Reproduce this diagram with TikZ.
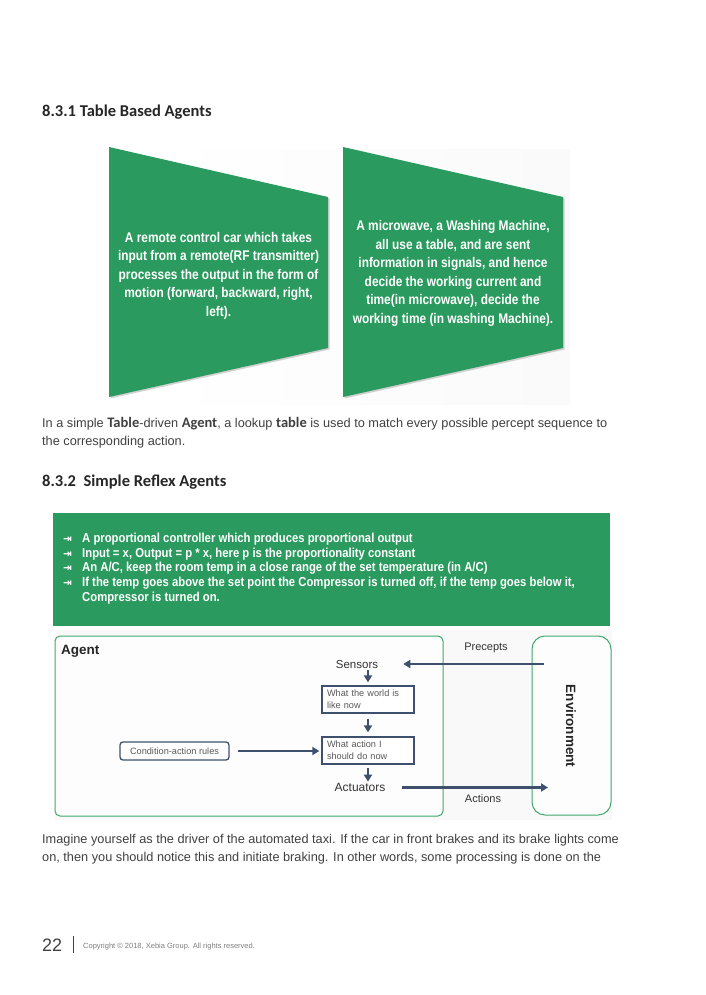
\documentclass[tikz,border=0pt]{standalone}
\usepackage{fontspec}
\setmainfont{Liberation Sans}
\newfontfamily\headfont{Carlito}
\newfontfamily\narrowfont[FakeStretch=0.85]{Liberation Sans}
\newfontfamily\bulletfont[FakeStretch=0.87]{Liberation Sans}
\newfontfamily\symfont{DejaVu Sans}
\usetikzlibrary{arrows.meta,positioning,shadows}
\definecolor{tgreen}{RGB}{42,154,94}
\definecolor{slateblue}{RGB}{62,80,110}
\definecolor{bodygray}{RGB}{64,64,64}
\definecolor{framegreen}{RGB}{62,168,108}
\newcommand{\arrowbullet}{\makebox[19pt][l]{\symfont\fontsize{10.5}{10}\selectfont ⇥}}
\newcommand{\boldword}[1]{{\headfont\bfseries\fontsize{14.5}{18}\selectfont #1}}
\tikzset{
  trap/.style={fill=tgreen, draw=none, drop shadow={shadow xshift=1.5pt, shadow yshift=-1.5pt, opacity=0.35}},
  traptext/.style={anchor=base, inner sep=0pt, text=white, align=center, font=\narrowfont\bfseries\fontsize{14}{18.5}\selectfont},
  bodytext/.style={anchor=base west, inner sep=0pt, align=left, text=bodygray, font=\fontsize{12.75}{18}\selectfont},
  headtext/.style={anchor=base west, inner sep=0pt, text=black!85, font=\headfont\bfseries\fontsize{16.5}{18}\selectfont},
  agentbox/.style={draw=slateblue, line width=1.3pt, fill=white, align=left, text=black!65, font=\fontsize{9.2}{12}\selectfont},
  flow/.style={draw=slateblue, line width=2.2pt, -{Triangle[length=7pt,width=8pt]}},
  label/.style={inner sep=1pt, text=black!80, font=\fontsize{11}{12}\selectfont}
}
\begin{document}
\begin{tikzpicture}[x=1pt,y=-1pt]
\useasboundingbox (0,0) rectangle (705,995);
\fill[white] (0,0) rectangle (705,995);

\node[headtext] (head1) at (42,117) {8.3.1 Table Based Agents};

\shade[left color=white, right color=gray!4] (160,150) rectangle (570,404);
\fill[trap] (109,147) -- (328,197) -- (328,348) -- (109,397) -- cycle;
\fill[trap] (343,147) -- (563,197) -- (563,348) -- (343,397) -- cycle;
\node[traptext] (car) at (218.5,316) {A remote control car which takes\\input from a remote(RF transmitter)\\processes the output in the form of\\motion (forward, backward, right,\\left).};
\node[traptext] (oven) at (453,323) {A microwave, a Washing Machine,\\all use a table, and are sent\\information in signals, and hence\\decide the working current and\\time(in microwave), decide the\\working time (in washing Machine).};

\node[bodytext] (para1) at (42,445) {In a simple \boldword{Table}-driven \boldword{Agent}, a lookup \boldword{table} is used to match every possible percept sequence to\\the corresponding action.};

\node[headtext] (head2) at (42,486) {8.3.2\ \ Simple Reflex Agents};

\fill[tgreen] (53,513) rectangle (610,626);
\node[anchor=base west, inner sep=0pt, align=left, text=white, font=\bulletfont\bfseries\fontsize{13}{14.6}\selectfont] (bullets) at (63,601) {\arrowbullet A proportional controller which produces proportional output\\\arrowbullet Input = x, Output = p * x, here p is the proportionality constant\\\arrowbullet An A/C, keep the room temp in a close range of the set temperature (in A/C)\\\arrowbullet If the temp goes above the set point the Compressor is turned off, if the temp goes below it,\\\hspace*{19pt}Compressor is turned on.};

\fill[gray!5] (55,630) rectangle (612,820);
\draw[framegreen, line width=1pt, rounded corners=5pt, fill=white!60!gray!4] (55,636) rectangle (443,816);
\draw[framegreen, line width=1pt, rounded corners=13pt, fill=white!60!gray!4] (532,636) rectangle (611,815);
\node[anchor=base west, inner sep=0pt, text=black!85, font=\bfseries\fontsize{13.5}{14}\selectfont] (agent) at (61,654) {Agent};
\node[rotate=-90, text=black!85, font=\bfseries\fontsize{13.5}{15}\selectfont] (env) at (571,726) {Environment};

\node[label, font=\fontsize{11.5}{12}\selectfont] (sensors) at (357,665) {Sensors};
\node[agentbox, minimum width=92pt, minimum height=27pt, text width=82pt, inner xsep=4pt] (world) at (368,699.5) {What the world is\\like now};
\node[agentbox, minimum width=92pt, minimum height=27pt, text width=82pt, inner xsep=4pt] (action) at (368,750.5) {What action I\\should do now};
\node[agentbox, rounded corners=3pt, minimum width=109pt, minimum height=18pt] (rules) at (174.5,751) {Condition-action rules};
\node[label, font=\fontsize{12}{13}\selectfont] (actuators) at (360,787) {Actuators};
\node[label] (precepts) at (486,648) {Precepts};
\node[label] (actions) at (483,799) {Actions};

\coordinate (envout) at (544,664);
\coordinate (envin) at (548,787.5);
\draw[flow, shorten >=24pt] (envout) -- (sensors.east |- envout);
\draw[flow, shorten >=3pt] (sensors.south -| world.north) -- (world.north);
\draw[flow, shorten <=5pt, shorten >=4pt] (world.south) -- (action.north);
\draw[flow, shorten <=8pt, shorten >=2pt] (rules.east) -- (action.west |- rules.east);
\draw[flow, shorten <=3pt] (action.south) -- (actuators.north -| action.south);
\draw[flow, shorten <=15pt] (actuators.east |- envin) -- (envin);

\node[bodytext] (para2) at (42,861) {Imagine yourself as the driver of the automated taxi. If the car in front brakes and its brake lights come\\on, then you should notice this and initiate braking. In other words, some processing is done on the};

\node[anchor=base west, inner sep=0pt, text=bodygray, font=\fontsize{18}{18}\selectfont] (page) at (42,951) {22};
\draw[bodygray, line width=0.9pt] (73,936) -- (73,953);
\node[anchor=base west, inner sep=0pt, text=gray, font=\fontsize{7.5}{8}\selectfont] (copy) at (83,948) {Copyright © 2018, Xebia Group. All rights reserved.};
\end{tikzpicture}
\end{document}
